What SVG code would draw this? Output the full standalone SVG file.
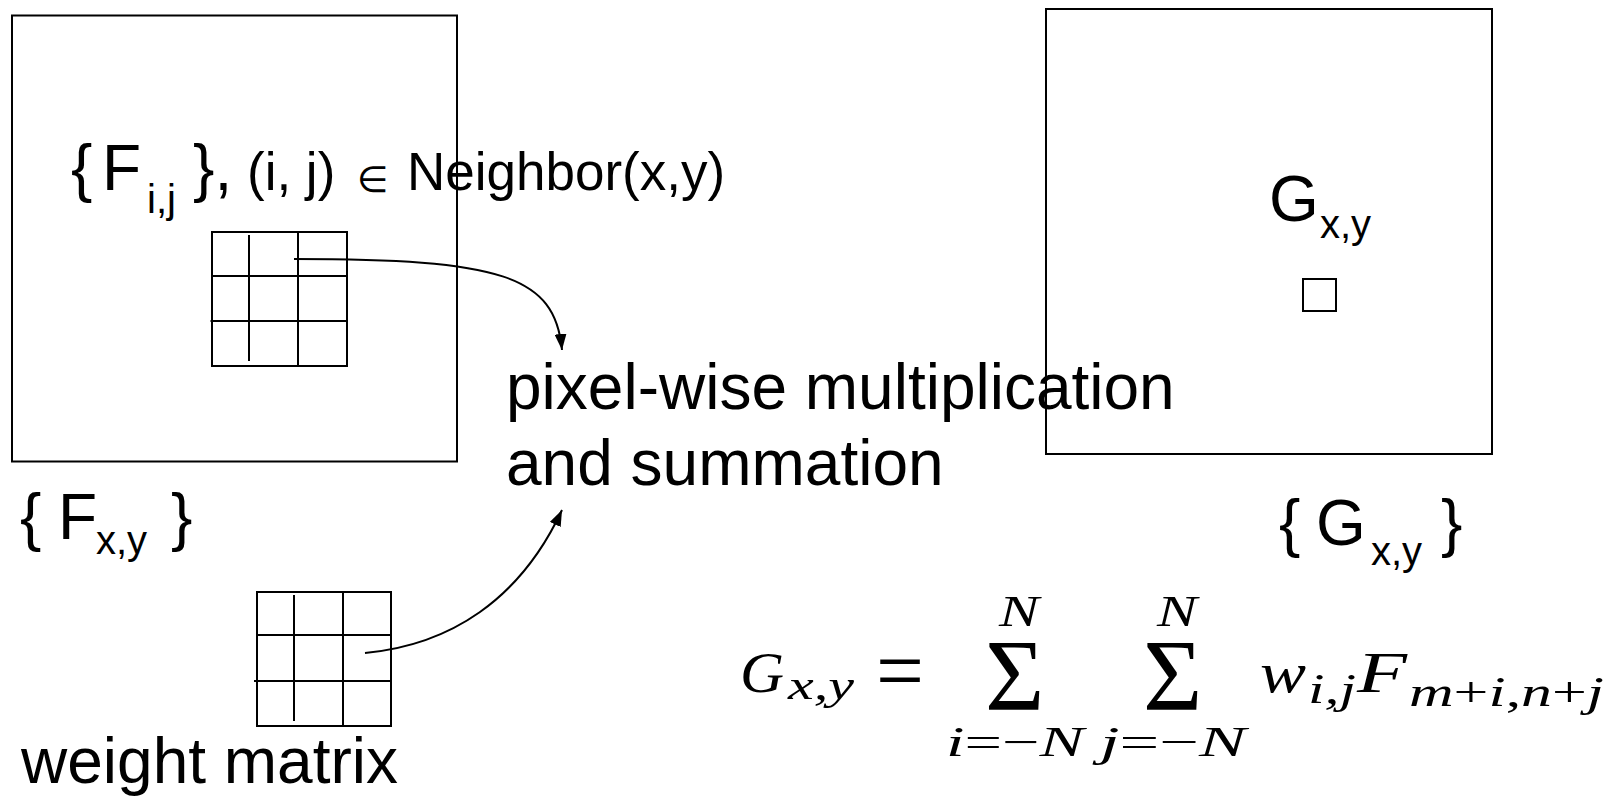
<svg xmlns="http://www.w3.org/2000/svg" width="1609" height="796" viewBox="0 0 1609 796">
  <style>
    .frame { fill: none; stroke: #000; stroke-width: 2; }
    .grid { fill: none; stroke: #000; stroke-width: 2; }
    .lbl { font-family: "Liberation Sans", Arial, sans-serif; fill: #000; }
    .big { font-size: 64px; }
    .mid { font-size: 53px; }
    .sub { font-size: 40px; }
    .math { font-family: "Liberation Serif", "Times New Roman", serif; fill: #000; }
    .it { font-style: italic; }
    .wire { fill: none; stroke: #000; stroke-width: 2; }
  </style>
  <defs>
    <marker id="head" markerUnits="userSpaceOnUse" markerWidth="16" markerHeight="12" refX="16" refY="6" orient="auto">
      <path d="M0,0 L16,6 L0,12 z" fill="#000"/>
    </marker>
  </defs>

  <rect width="1609" height="796" fill="#fff"/>

  <!-- input image F -->
  <g id="input-image">
    <rect class="frame" x="12" y="15.5" width="445" height="446"/>
    <text class="lbl big" x="71" y="190">{</text>
    <text class="lbl big" x="102" y="190">F</text>
    <text class="lbl sub" x="147" y="213">i,j</text>
    <text class="lbl big" x="193" y="190">},</text>
    <text class="lbl mid" x="247" y="190">(i, j)</text>
    <text x="357" y="192" style="font-family:'DejaVu Sans',sans-serif;font-size:36px">∈</text>
    <text class="lbl mid" x="407" y="190">Neighbor(x,y)</text>
    <text class="lbl big" x="20" y="539">{</text>
    <text class="lbl big" x="58" y="539">F</text>
    <text class="lbl sub" x="96" y="554">x,y</text>
    <text class="lbl big" x="171" y="539">}</text>
  </g>

  <!-- 3x3 neighbourhood window -->
  <g id="kernel-window">
    <rect class="grid" x="212" y="232" width="135" height="134"/>
    <line class="grid" x1="249" y1="235" x2="249" y2="361"/>
    <line class="grid" x1="298" y1="232" x2="298" y2="366"/>
    <line class="grid" x1="212" y1="276" x2="347" y2="276"/>
    <line class="grid" x1="210.5" y1="321" x2="347" y2="321"/>
  </g>

  <!-- 3x3 weight matrix -->
  <g id="weight-matrix">
    <rect class="grid" x="257" y="592" width="134" height="134"/>
    <line class="grid" x1="294" y1="595" x2="294" y2="721"/>
    <line class="grid" x1="343" y1="592" x2="343" y2="726"/>
    <line class="grid" x1="257" y1="635" x2="391" y2="635"/>
    <line class="grid" x1="254" y1="681" x2="391" y2="681"/>
    <text class="lbl big" x="21" y="783">weight matrix</text>
  </g>

  <!-- operation label -->
  <g id="op-label">
    <text class="lbl big" x="506" y="409">pixel-wise multiplication</text>
    <text class="lbl big" x="506" y="485">and summation</text>
  </g>

  <!-- output image G -->
  <g id="output-image">
    <rect class="frame" x="1046" y="9" width="446" height="445"/>
    <text class="lbl big" x="1269" y="221">G</text>
    <text class="lbl sub" x="1320" y="238">x,y</text>
    <text class="lbl big" x="1279" y="545">{</text>
    <text class="lbl big" x="1316" y="545">G</text>
    <text class="lbl sub" x="1371" y="565">x,y</text>
    <text class="lbl big" x="1441" y="545">}</text>
  </g>

  <g id="output-pixel">
    <rect class="frame" x="1303" y="279" width="33" height="32"/>
  </g>

  <!-- convolution formula -->
  <g id="formula" class="math">
    <text class="it" x="740" y="692" font-size="58" textLength="44" lengthAdjust="spacingAndGlyphs">G</text>
    <text class="it" x="788" y="699" font-size="42" textLength="66" lengthAdjust="spacingAndGlyphs">x,y</text>
    <text x="876" y="700" font-size="88" textLength="48" lengthAdjust="spacingAndGlyphs">=</text>
    <text x="985" y="710" font-size="102">Σ</text>
    <text class="it" x="999" y="626" font-size="44" textLength="40" lengthAdjust="spacingAndGlyphs">N</text>
    <text x="946" y="756" font-size="42" textLength="138" lengthAdjust="spacingAndGlyphs"><tspan font-style="italic">i</tspan>=−<tspan font-style="italic">N</tspan></text>
    <text x="1143" y="710" font-size="102">Σ</text>
    <text class="it" x="1157" y="626" font-size="44" textLength="40" lengthAdjust="spacingAndGlyphs">N</text>
    <text x="1100" y="756" font-size="42" textLength="146" lengthAdjust="spacingAndGlyphs"><tspan font-style="italic">j</tspan>=−<tspan font-style="italic">N</tspan></text>
    <text class="it" x="1260" y="692" font-size="58" textLength="46" lengthAdjust="spacingAndGlyphs">w</text>
    <text class="it" x="1308" y="703" font-size="42" textLength="48" lengthAdjust="spacingAndGlyphs">i,j</text>
    <text class="it" x="1357" y="692" font-size="58" textLength="50" lengthAdjust="spacingAndGlyphs">F</text>
    <text x="1409" y="706" font-size="42" textLength="195" lengthAdjust="spacingAndGlyphs"><tspan font-style="italic">m</tspan>+<tspan font-style="italic">i</tspan>,<tspan font-style="italic">n</tspan>+<tspan font-style="italic">j</tspan></text>
  </g>

  <!-- connectors -->
  <g id="connectors">
    <path class="wire" d="M294,259 C500,259 555,275 562,350" marker-end="url(#head)"/>
    <path class="wire" d="M365,653 C450,645 520,600 562,510" marker-end="url(#head)"/>
  </g>
</svg>
